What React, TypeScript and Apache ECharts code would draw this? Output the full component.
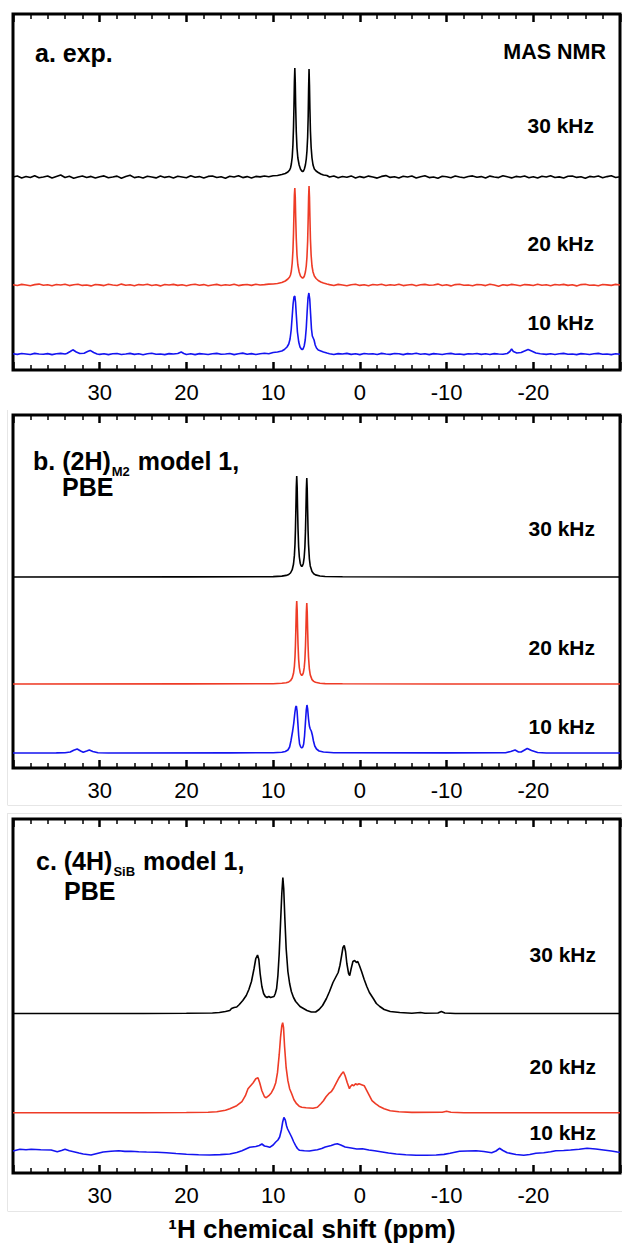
import React, { useEffect, useRef } from "react";
import * as echarts from "echarts";

type Pt = [number, number];

// ---------- Panel a: experimental 1H MAS NMR (ppm, intensity above baseline) ----------
const expA30: Pt[] = [
  [40,0],[39.5,1],[39,-1],[38.5,0.5],[38,-0.5],[37.5,1.2],[37,-0.8],[36.5,0],[36,1],[35.5,-1],[35,0.5],[34.5,2],[34,-0.5],[33.5,0.8],[33,-1.2],[32.5,0],[32,1],[31.5,-0.5],[31,0.6],[30.5,-1],[30,0.3],[29.5,1.1],[29,-0.7],[28.5,0],[28,0.9],[27.5,-1.3],[27,0.4],[26.5,1.8],[26,-0.6],[25.5,0.2],[25,-1],[24.5,0.8],[24,0],[23.5,-0.9],[23,1],[22.5,-0.4],[22,0.5],[21.5,-1.1],[21,0.7],[20.5,0],[20,-0.8],[19.5,1.2],[19,-0.3],[18.5,0.4],[18,-1],[17.5,0.6],[17,1],[16.5,-0.5],[16,0.2],[15.5,-1.2],[15,0.8],[14.5,0],[14,1.3],[13.5,-0.6],[13,0.4],[12.5,-0.9],[12,0.6],[11.5,0.1],[11,1],[10.5,0.3],
  [10,1.2],[9.5,1.5],[9,2.5],[8.6,3.5],[8.3,5],[8.1,7],[8.0,9],[7.9,13],[7.8,20],[7.72,32],[7.65,50],[7.6,70],[7.55,95],[7.5,109],[7.45,95],[7.4,70],[7.33,45],[7.25,29],[7.15,19],[7.0,12],[6.85,8],[6.7,6],[6.6,5.5],[6.5,6],[6.4,8],[6.28,12],[6.18,18],[6.1,26],[6.02,40],[5.96,60],[5.91,88],[5.86,108],[5.81,92],[5.76,68],[5.7,46],[5.62,30],[5.52,19],[5.4,12],[5.25,8],[5.05,6],[4.8,4.5],[4.5,3],[4.2,2],[3.8,1.5],
  [3.5,0],[3,1],[2.5,-0.8],[2,0.5],[1.5,-0.3],[1,1.1],[0.5,-1],[0,0.4],[-0.5,-0.6],[-1,0.9],[-1.5,0],[-2,-1.1],[-2.5,0.6],[-3,1.4],[-3.5,-0.4],[-4,0.2],[-4.5,-1],[-5,0.7],[-5.5,0],[-6,1],[-6.5,-0.9],[-7,0.3],[-7.5,1.2],[-8,-0.6],[-8.5,0],[-9,-1.2],[-9.5,0.8],[-10,0.2],[-10.5,-0.7],[-11,1],[-11.5,0],[-12,-0.8],[-12.5,0.5],[-13,1.1],[-13.5,-0.3],[-14,0.4],[-14.5,-1],[-15,0.9],[-15.5,0],[-16,-0.6],[-16.5,1.2],[-17,0.2],[-17.5,-0.9],[-18,0.6],[-18.5,0],[-19,1],[-19.5,-0.7],[-20,0.3],[-20.5,-1.1],[-21,0.8],[-21.5,0],[-22,1.3],[-22.5,-0.5],[-23,0.1],[-23.5,-1],[-24,0.7],[-24.5,1],[-25,-0.4],[-25.5,0.2],[-26,-1.2],[-26.5,0.6],[-27,0],[-27.5,1],[-28,-0.8],[-28.5,0.4],[-29,1.2],[-29.5,-0.5],[-30,0.3],
];
const expA20: Pt[] = [
  [40,0.3],[39.5,-0.5],[39,0.6],[38.5,0],[38,-0.7],[37.5,0.4],[37,0.9],[36.5,-0.3],[36,0.2],[35.5,-0.8],[35,0.5],[34.5,0],[34,0.7],[33.5,-0.6],[33,0.2],[32.5,0.8],[32,-0.4],[31.5,0],[31,-0.9],[30.5,0.5],[30,0.1],[29.5,-0.6],[29,0.7],[28.5,0],[28,-0.5],[27.5,0.9],[27,-0.2],[26.5,0.3],[26,-0.8],[25.5,0.4],[25,0],[24.5,0.8],[24,-0.5],[23.5,0.2],[23,-0.9],[22.5,0.5],[22,0],[21.5,0.6],[21,-0.4],[20.5,0.2],[20,-0.7],[19.5,0.3],[19,0.8],[18.5,-0.2],[18,0.4],[17.5,-0.8],[17,0],[16.5,0.6],[16,-0.5],[15.5,0.3],[15,-0.2],[14.5,0.8],[14,-0.6],[13.5,0.1],[13,0.5],[12.5,-0.4],[12,0.7],[11.5,0],[11,0.4],[10.5,0.9],
  [10,1],[9.5,1.5],[9,2.5],[8.6,4],[8.3,6],[8.1,8],[8.0,10],[7.9,14],[7.8,22],[7.72,34],[7.65,52],[7.6,72],[7.55,90],[7.5,97],[7.45,88],[7.4,68],[7.33,46],[7.25,30],[7.15,20],[7.0,13],[6.85,9],[6.7,7.5],[6.6,7],[6.5,7.5],[6.4,9],[6.28,13],[6.18,19],[6.1,28],[6.02,44],[5.96,66],[5.91,88],[5.86,99],[5.81,88],[5.76,68],[5.7,46],[5.62,30],[5.52,19],[5.4,13],[5.25,9],[5.05,6.5],[4.8,4.5],[4.5,3],[4.2,2],[3.8,1],
  [3.5,0.4],[3,-0.5],[2.5,0.6],[2,0],[1.5,-0.7],[1,0.3],[0.5,0.8],[0,-0.4],[-0.5,0.2],[-1,-0.8],[-1.5,0.5],[-2,0],[-2.5,0.7],[-3,-0.5],[-3.5,0.3],[-4,-0.2],[-4.5,0.8],[-5,-0.6],[-5.5,0],[-6,0.5],[-6.5,-0.8],[-7,0.2],[-7.5,0.6],[-8,-0.3],[-8.5,0],[-9,0.9],[-9.5,-0.5],[-10,0.2],[-10.5,-0.9],[-11,0.4],[-11.5,0.7],[-12,-0.2],[-12.5,0],[-13,-0.7],[-13.5,0.5],[-14,0.2],[-14.5,-0.6],[-15,0.8],[-15.5,0],[-16,-1.2],[-16.5,0.3],[-17,-0.4],[-17.5,0.6],[-18,0],[-18.5,-0.8],[-19,0.4],[-19.5,0.1],[-20,-0.5],[-20.5,0.7],[-21,-0.3],[-21.5,0.2],[-22,-0.8],[-22.5,0.5],[-23,0],[-23.5,0.6],[-24,-0.4],[-24.5,0.2],[-25,-0.9],[-25.5,0.4],[-26,0.7],[-26.5,-0.2],[-27,0],[-27.5,-0.7],[-28,0.5],[-28.5,0.1],[-29,-0.4],[-29.5,0.6],[-30,0],
];
const expA10: Pt[] = [
  [40,0.2],[39.5,-0.4],[39,0.5],[38.5,0],[38,-0.5],[37.5,0.6],[37,0],[36.5,-0.3],[36,0.4],[35.5,-0.6],[35,0.3],[34.5,0.6],[34,0],[33.8,0.5],[33.4,2.5],[33.1,4.2],[32.7,2],[32.3,0.5],[31.8,0.8],[31.4,2.5],[31.1,3.6],[30.7,1.5],[30.3,0],[30,-0.4],[29.5,0.3],[29,-0.6],[28.5,0.2],[28,0.5],[27.5,-0.5],[27,0],[26.5,0.6],[26,-0.4],[25.5,0.2],[25,-0.7],[24.5,0.3],[24,0.8],[23.5,-0.3],[23,0],[22.5,-0.6],[22,0.4],[21.5,0],[21,0.5],[20.6,2],[20.3,0.5],[20,-0.5],[19.5,0.2],[19,-0.6],[18.5,0.4],[18,0],[17.5,-0.5],[17,0.3],[16.5,0.6],[16,-0.3],[15.5,0],[15,0.5],[14.5,-0.6],[14,0.2],[13.5,0.9],[13,-0.2],[12.5,0.4],[12,-0.5],[11.5,0.3],[11,0.7],[10.5,0.2],
  [10,1.5],[9.5,2],[9,3],[8.7,4.5],[8.4,7],[8.2,10],[8.05,15],[7.92,24],[7.8,38],[7.7,50],[7.6,57],[7.5,58],[7.42,52],[7.32,38],[7.2,22],[7.05,12],[6.9,7],[6.75,5],[6.65,4.5],[6.55,5],[6.42,8],[6.3,14],[6.18,26],[6.08,42],[5.98,56],[5.88,61],[5.78,55],[5.68,40],[5.58,25],[5.48,18],[5.38,16],[5.28,14],[5.15,9],[5.0,6],[4.8,4],[4.5,3],[4.2,2],[3.8,1],
  [3.5,0.3],[3,-0.5],[2.5,0.4],[2,0],[1.5,0.6],[1,-0.4],[0.5,0.2],[0,-0.6],[-0.5,0.5],[-1,0],[-1.5,0.3],[-2,-0.5],[-2.5,0.6],[-3,0],[-3.5,-0.4],[-4,0.5],[-4.5,0.2],[-5,-0.6],[-5.5,0.4],[-6,0],[-6.5,0.7],[-7,-0.3],[-7.5,0.2],[-8,-0.6],[-8.5,0.4],[-9,0],[-9.5,-0.5],[-10,0.3],[-10.5,0.6],[-11,-0.2],[-11.5,0],[-12,-0.6],[-12.5,0.3],[-13,0],[-13.5,0.5],[-14,-0.4],[-14.5,0.2],[-15,-0.5],[-15.5,0.4],[-16,0],[-16.5,-0.3],[-17,0.5],[-17.3,2.5],[-17.5,5],[-17.7,2.5],[-18.1,1],[-18.6,1.5],[-19,3],[-19.4,4.5],[-19.8,3],[-20.3,1],[-20.8,0.3],[-21.5,-0.4],[-22,0.3],[-22.5,-0.5],[-23,0.2],[-23.5,0.6],[-24,-0.2],[-24.5,0],[-25,-0.6],[-25.5,0.4],[-26,0],[-26.5,-0.5],[-27,0.3],[-27.5,0.6],[-28,-0.3],[-28.5,0],[-29,-0.6],[-29.5,0.2],[-30,-0.3],
];

// ---------- Panel b: (2H)M2 model 1, PBE ----------
const m2B30: Pt[] = [
  [40,0],[20,0.1],[12,0.2],[10,0.4],[9,0.9],[8.5,1.6],[8.2,2.6],[8.0,4],[7.8,7.3],[7.65,13],[7.55,21.6],[7.48,33],[7.43,47],[7.38,67],[7.33,90],[7.28,101],[7.23,90],[7.18,67],[7.13,48],[7.06,30],[6.98,20],[6.88,13.8],[6.78,11.3],[6.7,10.6],[6.62,11.2],[6.52,13.6],[6.42,19.7],[6.34,29.7],[6.27,46.6],[6.22,65.8],[6.17,88],[6.12,99],[6.07,88],[6.02,65.4],[5.97,46],[5.92,32.6],[5.82,18],[5.72,11.1],[5.52,5.4],[5.32,3.2],[5.12,2.1],[4.6,1],[4,0.5],[2,0.2],[-10,0],[-30,0],
];
const m2B20: Pt[] = [
  [40,0],[20,0.1],[12,0.2],[10,0.3],[9,0.7],[8.5,1.3],[8.2,2.1],[8.0,3.3],[7.8,6],[7.65,10.7],[7.55,17.7],[7.48,27],[7.43,38.5],[7.38,55],[7.33,74],[7.28,83],[7.23,74],[7.18,55],[7.13,39.4],[7.06,24.6],[6.98,16.4],[6.88,11.3],[6.78,9.3],[6.7,8.7],[6.62,9.2],[6.52,11.1],[6.42,16.1],[6.34,24.3],[6.27,38.2],[6.22,54],[6.17,72],[6.12,81],[6.07,72],[6.02,53.6],[5.97,37.7],[5.92,26.7],[5.82,14.8],[5.72,9.1],[5.52,4.4],[5.32,2.6],[5.12,1.7],[4.6,0.8],[4,0.4],[2,0.2],[-10,0],[-30,0],
];
const m2B10: Pt[] = [
  [40,0],[35,0.1],[34,0.2],[33.4,1],[33,2.8],[32.6,4],[32.2,2],[31.9,0.8],[31.5,2],[31.2,3],[30.8,1.5],[30.2,0.3],[29,0],[15,0.1],[10,0.3],[9,0.8],[8.6,1.5],[8.3,3],[8.1,6],[7.95,12],[7.85,17],[7.75,22],[7.62,30],[7.5,40],[7.4,46],[7.32,47],[7.24,42],[7.15,30],[7.05,17],[6.95,9],[6.82,6],[6.7,5],[6.58,6],[6.48,9],[6.38,17],[6.28,30],[6.18,43],[6.1,48],[6.02,44],[5.92,34],[5.82,27],[5.72,24],[5.6,22],[5.48,18],[5.35,12],[5.2,7],[5.0,4],[4.7,2],[4.2,1],[3,0.3],[-10,0.1],[-16.8,0.2],[-17.4,1.5],[-17.9,3],[-18.3,1],[-18.6,1],[-19,3],[-19.3,4.5],[-19.8,2.5],[-20.5,0.5],[-21.5,0],[-30,0],
];

// ---------- Panel c: (4H)SiB model 1, PBE ----------
const sibC30: Pt[] = [
  [40,0],[25,0],[20,0.2],[17,0.5],[16.2,1],[15.5,2],[15,3],[14.8,5],[14.5,6],[14.2,6.5],[13.9,9],[13.5,13],[13.1,18],[12.8,24],[12.5,32],[12.2,45],[12.0,55],[11.8,58.5],[11.65,54],[11.5,40],[11.3,27],[11.1,20],[10.9,17],[10.7,16],[10.5,17],[10.3,16],[10.1,16.5],[9.9,17],[9.75,20],[9.6,25],[9.45,38],[9.3,60],[9.15,90],[9.0,120],[8.88,136],[8.78,125],[8.65,95],[8.5,65],[8.3,42],[8.1,30],[7.9,22],[7.65,16],[7.4,12],[7.1,9],[6.9,7],[6.5,5],[6.1,3],[5.6,1.5],[5.1,1.5],[4.7,4],[4.3,8],[3.85,15],[3.5,22],[3.1,31],[2.8,36],[2.5,41],[2.3,48],[2.1,58],[1.95,66],[1.8,68],[1.65,62],[1.5,50],[1.3,40],[1.17,38],[1.0,45],[0.8,52],[0.6,53],[0.4,51],[0.24,52],[0.05,48],[-0.2,42],[-0.5,34],[-0.8,27],[-1.1,21],[-1.55,15],[-1.9,10],[-2.3,7],[-2.8,4],[-3.5,2],[-4.6,1],[-6,0.3],[-7,1],[-7.5,0.3],[-9,0.5],[-9.4,2],[-9.8,0.5],[-11,0],[-30,0],
];
const sibC20: Pt[] = [
  [40,0],[25,0],[20,0.2],[17.5,0.5],[16.5,1],[15.5,2.5],[15,4],[14.2,7],[13.6,11],[13.2,17],[12.9,24],[12.6,27],[12.3,30],[12.0,34],[11.75,35],[11.55,30],[11.3,22],[11.0,16],[10.8,15],[10.5,17],[10.2,20],[9.95,24],[9.7,30],[9.5,40],[9.3,58],[9.15,75],[9.0,87],[8.9,90],[8.8,85],[8.68,66],[8.5,45],[8.3,32],[8.1,24],[7.86,19],[7.6,13],[7.3,9],[7.0,6.5],[6.7,5.5],[6.2,5],[5.4,4.5],[4.9,5.5],[4.5,9],[4.2,12],[3.9,16],[3.6,19],[3.3,21],[3.0,25],[2.7,30],[2.4,35],[2.1,39],[1.9,41],[1.7,37],[1.45,30],[1.2,24],[1.1,26],[0.9,28],[0.7,27],[0.5,29],[0.3,28],[0.1,29],[-0.2,28],[-0.5,27],[-0.8,22],[-1.1,17],[-1.4,12],[-1.8,9],[-2.2,6.5],[-2.8,4],[-3.5,2],[-4.5,1],[-6,0.3],[-9.5,0.5],[-10,1.5],[-10.5,0.5],[-12,0],[-30,0],
];
const sibC10: Pt[] = [
  [40,6],[39.2,7.7],[38.5,7.2],[37.9,7.7],[36.8,7.3],[35.6,7],[34.9,5.3],[34.4,6.5],[34.0,7.7],[33.5,6.2],[33.0,5.3],[32.4,4],[31.9,3],[31.0,2],[30.3,3.5],[29.6,5],[28.7,5.8],[27.8,6.3],[27.1,5.6],[26.4,5.7],[25.5,5.2],[24.6,5],[23.4,4.8],[22.3,4.3],[21.2,3.5],[20.0,2.7],[18.6,2.2],[17.3,2],[16.1,2.4],[15.0,3],[14.2,4.5],[13.6,6.3],[12.7,9.7],[12.0,10.5],[11.6,11.5],[11.3,13],[11.0,11],[10.7,10.5],[10.4,9.7],[10.0,12],[9.7,15],[9.45,17],[9.25,20],[9.05,27],[8.9,35],[8.76,39.5],[8.6,37],[8.45,31],[8.33,28],[8.1,24],[7.87,20],[7.62,15],[7.42,11.7],[7.2,8.5],[6.96,6.7],[6.4,6.2],[5.82,6],[5.3,6.8],[4.9,7.3],[4.4,8.5],[3.99,10],[3.3,11.5],[2.9,12.8],[2.6,13.3],[2.2,12],[1.7,10],[1.0,9],[0.35,8],[-0.3,8.3],[-1.04,7],[-1.7,6.2],[-2.4,5.3],[-3.3,4],[-4.2,3],[-5.3,2.2],[-6.5,1.7],[-7.7,1.8],[-8.8,2],[-9.7,2.6],[-10.4,3.7],[-11.5,5.7],[-12.4,6],[-13.4,6.3],[-14.3,5.5],[-15.2,4.3],[-15.7,6],[-16.1,8.7],[-16.5,6.5],[-17.0,4.3],[-18.0,2.5],[-18.9,1.7],[-19.6,2.5],[-20.3,3.7],[-21.2,4.3],[-22.0,5.2],[-22.6,6.3],[-23.5,6.5],[-24.3,7],[-25.3,7.8],[-26.2,8.7],[-27.2,8],[-28.1,7],[-29.0,6],[-29.7,5],[-30,4.8],
];

// stack offsets (baseline heights inside each panel, same units as intensities)
const offsetsA = [193, 85, 16];
const offsetsB = [191, 84, 15];
const offsetsC = [159.5, 60.3, 16];

const rateLabels = ["30 kHz", "20 kHz", "10 kHz"];
const traceColors = ["#000000", "#ee3b26", "#1414f0"];
const axisTitle = "\u00B9H chemical shift (ppm)";

const FONT = '"Liberation Sans", Arial, Helvetica, sans-serif';

export default function App() {
  const ref = useRef<HTMLDivElement>(null);

  useEffect(() => {
    if (!ref.current) return;
    const chart = echarts.init(ref.current, null, { renderer: "svg" });

    const grids = [
      { left: 13, top: 14, width: 607, height: 356 },
      { left: 13, top: 415, width: 607, height: 353 },
      { left: 13, top: 819, width: 607, height: 354 },
    ];

    const panels: { traces: Pt[][]; offsets: number[] }[] = [
      { traces: [expA30, expA20, expA10], offsets: offsetsA },
      { traces: [m2B30, m2B20, m2B10], offsets: offsetsB },
      { traces: [sibC30, sibC20, sibC10], offsets: offsetsC },
    ];

    const xAxes: any[] = [];
    const yAxes: any[] = [];
    const series: any[] = [];

    grids.forEach((g, gi) => {
      ["bottom", "top"].forEach((pos) => {
        xAxes.push({
          gridIndex: gi,
          type: "value",
          position: pos,
          inverse: true,
          min: -30,
          max: 40,
          interval: 10,
          axisLine: { show: false },
          axisTick: { show: true, inside: true, length: 8, lineStyle: { color: "#000", width: 2.5 } },
          minorTick: { show: true, splitNumber: 5, length: 5, lineStyle: { color: "#000", width: 1.5 } },
          axisLabel: {
            show: pos === "bottom",
            showMinLabel: false,
            showMaxLabel: false,
            color: "#000",
            fontSize: 22,
            fontFamily: FONT,
            margin: 11,
          },
          splitLine: { show: false },
          minorSplitLine: { show: false },
        });
      });
      yAxes.push({ gridIndex: gi, type: "value", min: 0, max: g.height, show: false });

      const p = panels[gi];
      p.traces.forEach((tr, ti) => {
        series.push({
          type: "line",
          xAxisIndex: gi * 2,
          yAxisIndex: gi,
          data: tr.map(([x, y]) => [x, y + p.offsets[ti]]),
          showSymbol: false,
          symbol: "none",
          silent: true,
          lineStyle: { color: traceColors[ti], width: 1.6 },
          z: 3,
        });
      });
    });

    const txt = (x: number, y: number, text: string, size: number, align: string, weight = "bold") => ({
      type: "text",
      x,
      y,
      z: 100,
      style: {
        text,
        fill: "#000",
        fontSize: size,
        fontWeight: weight,
        fontFamily: FONT,
        align,
        verticalAlign: "middle",
      },
    });

    const titleRich = (x: number, y: number, a: string, sub: string, b: string) => ({
      type: "text",
      x,
      y,
      z: 100,
      style: {
        text: `{m|${a}}{s|${sub}}{m|${b}}`,
        align: "left",
        verticalAlign: "middle",
        rich: {
          m: { fontSize: 25, fontWeight: "bold", fontFamily: FONT, fill: "#000", lineHeight: 25 },
          s: { fontSize: 13, fontWeight: "bold", fontFamily: FONT, fill: "#000", lineHeight: 13, padding: [20, 1, 0, 1] },
        },
      },
    });

    const gray = "#e6e6e6";
    const gline = (x1: number, y1: number, x2: number, y2: number) => ({
      type: "line",
      z: 0,
      silent: true,
      shape: { x1, y1, x2, y2 },
      style: { stroke: gray, lineWidth: 1 },
    });

    const rateY = [
      [125, 243, 322],
      [528, 647, 726],
      [954, 1066, 1132],
    ];
    const rateX = [594, 595, 596];

    const graphic: any[] = [
      gline(7.5, 410, 7.5, 805),
      gline(7.5, 805.5, 622, 805.5),
      gline(7.5, 813.5, 622, 813.5),
      gline(7.5, 813, 7.5, 1211),
      gline(7.5, 1211.5, 622, 1211.5),
      txt(35, 53, "a. exp.", 25, "left"),
      txt(606, 52, "MAS NMR", 21.5, "right"),
      titleRich(33, 461, "b. (2H)", "M2", " model 1,"),
      txt(62, 487, "PBE", 25, "left"),
      titleRich(36, 861, "c. (4H)", "SiB", " model 1,"),
      txt(64, 891, "PBE", 25, "left"),
      txt(312, 1229, axisTitle, 26, "center"),
    ];
    rateY.forEach((ys, pi) => {
      ys.forEach((y, i) => graphic.push(txt(rateX[pi], y, rateLabels[i], 21, "right")));
    });

    chart.setOption({
      animation: false,
      backgroundColor: "#fff",
      grid: grids.map((g) => ({
        ...g,
        show: true,
        borderColor: "#000",
        borderWidth: 3,
        backgroundColor: "transparent",
        containLabel: false,
        outerBoundsMode: "none",
      })),
      xAxis: xAxes,
      yAxis: yAxes,
      series,
      graphic,
    });

    return () => chart.dispose();
  }, []);

  return (
    <div
      ref={ref}
      style={{ position: "absolute", left: 0, top: 0, width: 622, height: 1243 }}
    />
  );
}
